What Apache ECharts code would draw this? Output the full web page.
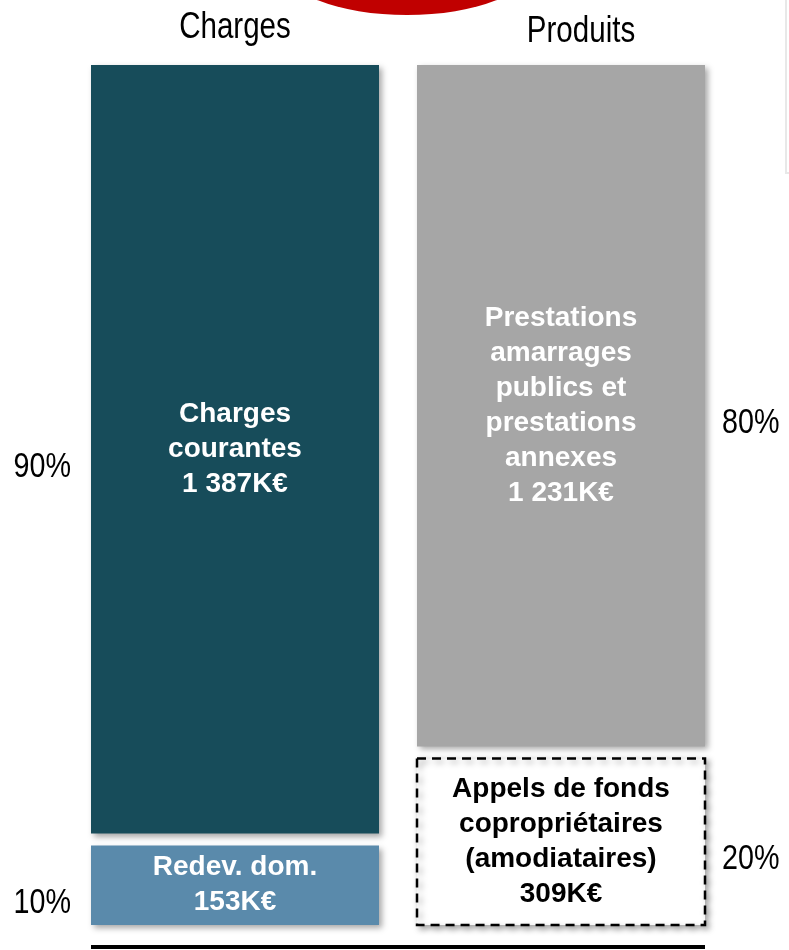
<!DOCTYPE html>
<html>
<head>
<meta charset="utf-8">
<script src="https://cdn.jsdelivr.net/npm/echarts@6/dist/echarts.min.js"></script>
<style>html,body{margin:0;padding:0;background:#fff;}#c{width:789px;height:950px;}</style>
</head>
<body>
<div id="c"></div>
<script>
// ---- data ----
const categories = ['Charges', 'Produits'];
const chargesNames = ['Redev. dom.', 'Charges\ncourantes'];
const chargesValues = [153, 1387];
const produitsNames = ['Appels de fonds\ncopropriétaires\n(amodiataires)', 'Prestations\namarrages\npublics et\nprestations\nannexes'];
const produitsValues = [309, 1231];

// ---- build ----
const fills = ['#5A8AAB', '#174C5A', 'dashed', '#A6A6A6'];
const textColors = ['#fff', '#fff', '#000', '#fff'];
function fmt(v) { return String(v).replace(/\B(?=(\d{3})+(?!\d))/g, ' ') + 'K€'; }
const segs = [];
[[chargesNames, chargesValues], [produitsNames, produitsValues]].forEach(function (pair, ci) {
  const names = pair[0], vals = pair[1];
  const total = vals.reduce(function (a, b) { return a + b; }, 0);
  let acc = 0;
  vals.forEach(function (v, i) {
    segs.push({ value: [ci, acc, acc + v, ci * 2 + i, total], name: names[i] + '\n' + fmt(v),
      pct: Math.round(v / total * 100) + '%' });
    acc += v;
  });
});
const grandMax = Math.max(chargesValues.reduce((a, b) => a + b, 0), produitsValues.reduce((a, b) => a + b, 0));

const FONT = 'Liberation Sans, Arial, sans-serif';
const NARROW_SCALE = 0.82;

function renderItem(params, api) {
  const cat = api.value(0), lo = api.value(1), hi = api.value(2), si = api.value(3), tot = api.value(4);
  const pLo = api.coord([cat, lo]);
  const pHi = api.coord([cat, hi]);
  const w = api.size([1, 0])[0] * 288 / 326;
  const x = pLo[0] - w / 2;
  const y0 = pHi[1] + (hi < tot ? 6 : 0);
  const y1 = pLo[1] - (lo > 0 ? 6 : 0);
  const seg = segs[params.dataIndex];
  const dashed = fills[si] === 'dashed';
  const rectStyle = dashed ?
    { fill: '#fff', stroke: '#000', lineWidth: 2.5, lineDash: [9, 6],
      shadowBlur: 6, shadowOffsetX: 3, shadowOffsetY: 3, shadowColor: 'rgba(0,0,0,0.35)' } :
    { fill: fills[si], shadowBlur: 6, shadowOffsetX: 3, shadowOffsetY: 3, shadowColor: 'rgba(0,0,0,0.35)' };
  const cy = (y0 + y1) / 2;
  const left = cat === 0;
  return {
    type: 'group',
    children: [
      { type: 'rect', shape: { x: x, y: y0, width: w, height: y1 - y0 }, style: rectStyle },
      { type: 'text', style: { text: seg.name, x: pLo[0], y: cy, fill: textColors[si],
          fontSize: 28, fontWeight: 'bold', fontFamily: FONT, lineHeight: 35,
          align: 'center', verticalAlign: 'middle' } },
      { type: 'text', x: left ? x - 20 : x + w + 17, y: cy + 18, scaleX: NARROW_SCALE,
        style: { text: seg.pct, x: 0, y: 0, fill: '#000',
          fontSize: 35, fontFamily: FONT, align: left ? 'right' : 'left', verticalAlign: 'middle' } }
    ]
  };
}

const chart = echarts.init(document.getElementById('c'), null, { renderer: 'canvas' });
chart.setOption({
  animation: false,
  backgroundColor: '#fff',
  grid: { left: 72, right: 65, top: 65, bottom: 25 },
  xAxis: { type: 'category', data: categories, show: false },
  yAxis: { type: 'value', min: 0, max: grandMax, show: false },
  series: [{ type: 'custom', renderItem: renderItem, data: segs, clip: false }],
  graphic: [
    { type: 'circle', x: 407, y: -35, scaleX: 2.52, shape: { cx: 0, cy: 0, r: 50 }, style: { fill: '#C00000' } },
    { type: 'rect', shape: { x: 786, y: -5, width: 20, height: 178 }, style: { fill: '#fff', stroke: '#e8e8e8', lineWidth: 2 } },
    { type: 'text', x: 235, y: 28, scaleX: NARROW_SCALE, style: { text: categories[0], x: 0, y: 0, fontSize: 36, fontFamily: FONT, fill: '#000', align: 'center', verticalAlign: 'middle' } },
    { type: 'text', x: 581, y: 32, scaleX: NARROW_SCALE, style: { text: categories[1], x: 0, y: 0, fontSize: 36, fontFamily: FONT, fill: '#000', align: 'center', verticalAlign: 'middle' } },
    { type: 'line', shape: { x1: 91, y1: 947, x2: 705, y2: 947 }, style: { stroke: '#000', lineWidth: 4 } }
  ]
});
</script>
</body>
</html>
